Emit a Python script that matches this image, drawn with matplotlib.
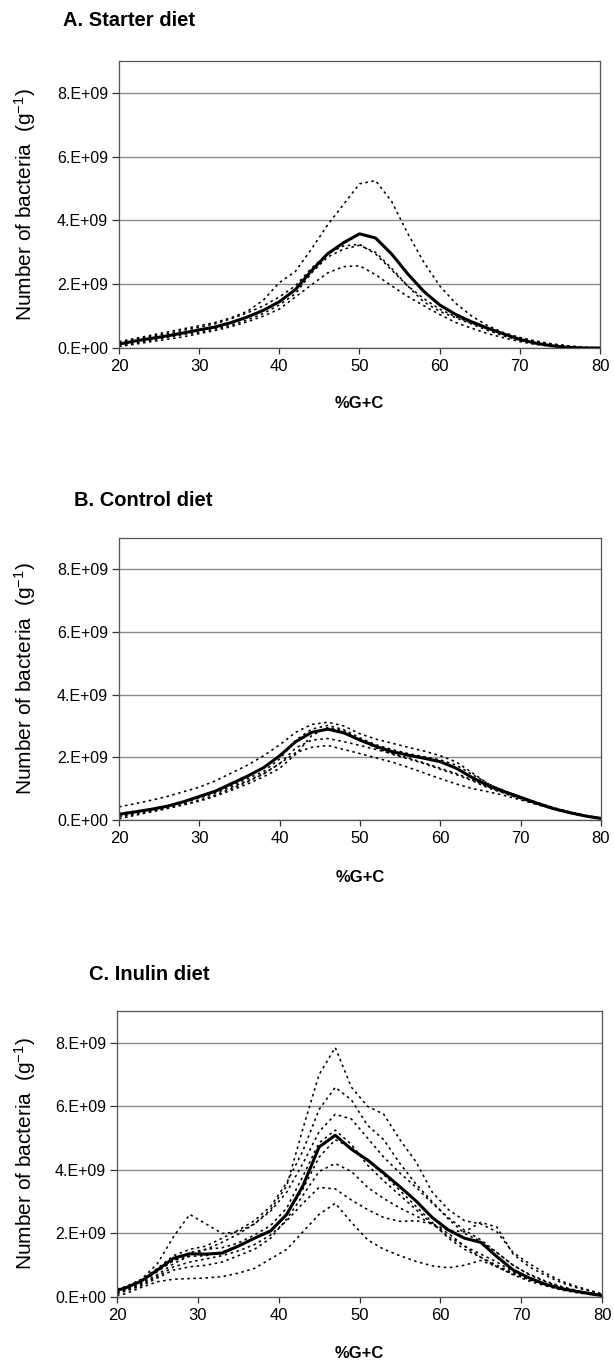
import matplotlib
matplotlib.use("Agg")
import matplotlib.pyplot as plt
import numpy as np

plt.rcParams['font.family'] = ['Liberation Sans', 'DejaVu Sans']
plt.rcParams['mathtext.fontset'] = 'custom'
plt.rcParams['mathtext.rm'] = 'Liberation Sans'
plt.rcParams['mathtext.it'] = 'Liberation Sans:italic'
plt.rcParams['mathtext.bf'] = 'Liberation Sans:bold'

# ---------------- data (values in units of 1e9 bacteria per g) ----------------
x_ab = [20, 22, 24, 26, 28, 30, 32, 34, 36, 38, 40, 42, 44, 46, 48, 50,
        52, 54, 56, 58, 60, 62, 64, 66, 68, 70, 72, 74, 76, 78, 80]

starter_mean = [0.12, 0.22, 0.30, 0.38, 0.47, 0.57, 0.66, 0.80, 0.97, 1.18, 1.45, 1.83, 2.42, 2.95, 3.30, 3.58,
                3.45, 2.95, 2.33, 1.78, 1.35, 1.05, 0.82, 0.62, 0.44, 0.27, 0.15, 0.07, 0.02, 0.0, 0.0]
starter_1 = [0.20, 0.30, 0.40, 0.50, 0.60, 0.70, 0.80, 0.95, 1.15, 1.50, 2.05, 2.40, 3.10, 3.85, 4.50, 5.15,
             5.25, 4.60, 3.60, 2.70, 1.95, 1.40, 1.00, 0.70, 0.48, 0.33, 0.22, 0.13, 0.07, 0.02, 0.0]
starter_2 = [0.05, 0.15, 0.25, 0.33, 0.42, 0.50, 0.60, 0.72, 0.88, 1.08, 1.35, 1.70, 2.35, 2.85, 3.10, 3.22,
             3.00, 2.50, 1.95, 1.45, 1.15, 0.95, 0.75, 0.55, 0.38, 0.24, 0.14, 0.07, 0.03, 0.0, 0.0]
starter_3 = [0.05, 0.12, 0.20, 0.27, 0.35, 0.45, 0.55, 0.67, 0.82, 1.00, 1.22, 1.60, 1.98, 2.35, 2.55, 2.58,
             2.30, 1.95, 1.62, 1.33, 1.05, 0.80, 0.62, 0.45, 0.32, 0.20, 0.11, 0.05, 0.02, 0.0, 0.0]
starter_4 = [0.15, 0.27, 0.36, 0.45, 0.55, 0.65, 0.76, 0.92, 1.10, 1.32, 1.60, 1.95, 2.50, 2.95, 3.20, 3.25,
             2.95, 2.45, 1.95, 1.55, 1.22, 0.98, 0.78, 0.60, 0.44, 0.30, 0.20, 0.12, 0.06, 0.02, 0.0]

control_mean = [0.18, 0.26, 0.34, 0.44, 0.58, 0.75, 0.92, 1.16, 1.40, 1.67, 2.05, 2.50, 2.80, 2.90, 2.78, 2.55,
                2.35, 2.18, 2.07, 1.97, 1.86, 1.65, 1.35, 1.09, 0.90, 0.72, 0.54, 0.37, 0.24, 0.13, 0.05]
control_1 = [0.42, 0.52, 0.63, 0.75, 0.90, 1.05, 1.25, 1.50, 1.75, 2.05, 2.40, 2.80, 3.05, 3.12, 3.00, 2.75,
             2.58, 2.45, 2.32, 2.20, 2.05, 1.85, 1.50, 1.15, 0.92, 0.74, 0.56, 0.40, 0.27, 0.15, 0.06]
control_2 = [0.04, 0.15, 0.26, 0.37, 0.50, 0.63, 0.80, 1.00, 1.22, 1.47, 1.80, 2.15, 2.32, 2.38, 2.25, 2.12,
             1.98, 1.85, 1.68, 1.50, 1.32, 1.15, 1.00, 0.90, 0.78, 0.64, 0.50, 0.36, 0.24, 0.13, 0.04]
control_3 = [0.20, 0.28, 0.36, 0.45, 0.56, 0.70, 0.86, 1.05, 1.25, 1.48, 1.80, 2.30, 2.55, 2.60, 2.50, 2.38,
             2.25, 2.12, 1.98, 1.82, 1.65, 1.48, 1.28, 1.05, 0.86, 0.68, 0.50, 0.35, 0.23, 0.12, 0.04]
control_4 = [0.12, 0.22, 0.32, 0.42, 0.56, 0.72, 0.90, 1.10, 1.32, 1.55, 1.95, 2.55, 2.90, 3.02, 2.88, 2.62,
             2.40, 2.25, 2.12, 2.02, 1.92, 1.75, 1.45, 1.15, 0.93, 0.74, 0.55, 0.38, 0.25, 0.13, 0.05]
control_5 = [0.10, 0.18, 0.27, 0.37, 0.48, 0.60, 0.76, 0.95, 1.15, 1.38, 1.65, 2.10, 2.70, 2.95, 2.85, 2.55,
             2.30, 2.10, 1.95, 1.80, 1.62, 1.45, 1.25, 1.02, 0.85, 0.68, 0.52, 0.36, 0.24, 0.13, 0.05]

x_c = [20, 21, 23, 25, 27, 29, 31, 33, 35, 37, 39, 41, 43, 45, 47, 49,
       51, 53, 55, 57, 59, 61, 63, 65, 67, 69, 71, 73, 75, 77, 79, 80]

inulin_mean = [0.21, 0.28, 0.50, 0.85, 1.22, 1.36, 1.35, 1.38, 1.60, 1.85, 2.08, 2.60, 3.50, 4.72, 5.09, 4.65,
               4.31, 3.90, 3.47, 3.02, 2.50, 2.11, 1.85, 1.72, 1.27, 0.85, 0.60, 0.40, 0.26, 0.17, 0.08, 0.05]
inulin_1 = [0.15, 0.22, 0.42, 0.70, 1.05, 1.30, 1.50, 1.72, 1.98, 2.30, 2.75, 3.50, 5.30, 7.00, 7.85, 6.60,
            6.00, 5.75, 4.95, 4.25, 3.30, 2.75, 2.40, 2.30, 2.05, 1.40, 1.05, 0.75, 0.50, 0.32, 0.17, 0.10]
inulin_2 = [0.25, 0.32, 0.55, 0.90, 1.30, 1.50, 1.60, 1.85, 2.10, 2.40, 2.85, 3.60, 4.60, 5.90, 6.60, 6.20,
            5.40, 4.95, 4.20, 3.55, 3.00, 2.45, 2.00, 1.75, 1.40, 1.00, 0.72, 0.50, 0.33, 0.20, 0.10, 0.06]
inulin_3 = [0.20, 0.30, 0.55, 1.05, 1.90, 2.60, 2.30, 2.00, 2.05, 2.30, 2.70, 3.30, 4.20, 5.20, 5.75, 5.60,
            5.00, 4.40, 3.90, 3.45, 2.95, 2.50, 2.10, 1.80, 1.40, 1.00, 0.70, 0.48, 0.30, 0.18, 0.10, 0.05]
inulin_4 = [0.18, 0.26, 0.45, 0.80, 1.15, 1.40, 1.50, 1.55, 1.70, 1.95, 2.25, 2.80, 3.80, 4.85, 5.25, 4.80,
            4.15, 3.65, 3.20, 2.75, 2.30, 1.90, 1.60, 1.35, 1.10, 0.80, 0.55, 0.38, 0.25, 0.15, 0.07, 0.04]
inulin_5 = [0.10, 0.18, 0.35, 0.60, 0.85, 0.95, 1.00, 1.10, 1.30, 1.50, 1.85, 2.45, 3.20, 3.95, 4.20, 3.95,
            3.45, 3.10, 2.80, 2.55, 2.30, 2.10, 2.05, 2.35, 2.20, 1.35, 0.95, 0.68, 0.45, 0.28, 0.15, 0.08]
inulin_6 = [0.12, 0.20, 0.38, 0.65, 0.95, 1.10, 1.20, 1.30, 1.45, 1.65, 1.95, 2.40, 2.95, 3.45, 3.40, 3.05,
            2.75, 2.50, 2.38, 2.40, 2.30, 2.00, 1.60, 1.25, 0.95, 0.70, 0.50, 0.35, 0.22, 0.13, 0.07, 0.04]
inulin_7 = [0.05, 0.10, 0.30, 0.48, 0.56, 0.58, 0.60, 0.64, 0.75, 0.90, 1.20, 1.50, 2.05, 2.60, 2.95, 2.35,
            1.80, 1.50, 1.30, 1.12, 0.98, 0.92, 1.00, 1.15, 0.95, 0.72, 0.55, 0.40, 0.27, 0.17, 0.09, 0.05]
inulin_8 = [0.22, 0.30, 0.50, 0.82, 1.15, 1.28, 1.30, 1.42, 1.62, 1.85, 2.10, 2.60, 3.40, 4.40, 4.95, 4.70,
            4.30, 3.85, 3.35, 2.85, 2.35, 1.85, 1.50, 1.25, 1.00, 0.75, 0.55, 0.40, 0.28, 0.18, 0.10, 0.06]

titles = ["A. Starter diet", "B. Control diet", "C. Inulin diet"]
x_ticks = [20, 30, 40, 50, 60, 70, 80]
y_ticks = [0, 2e9, 4e9, 6e9, 8e9]
y_tick_labels = ["0.E+00", "2.E+09", "4.E+09", "6.E+09", "8.E+09"]
x_label = "%G+C"
y_label = "Number of bacteria  (g$^{-1}$)"

panels = [
    (x_ab, starter_mean, [starter_1, starter_2, starter_3, starter_4]),
    (x_ab, control_mean, [control_1, control_2, control_3, control_4, control_5]),
    (x_c, inulin_mean, [inulin_1, inulin_2, inulin_3, inulin_4, inulin_5, inulin_6, inulin_7, inulin_8]),
]

# ---------------- layout (pixels) ----------------
W, H = 614, 1366
fig = plt.figure(figsize=(W / 100, H / 100), dpi=100)
boxes = [(119, 600, 61, 348), (119, 601, 538, 820), (117, 602, 1011, 1297)]
title_pos = [(63, 20), (74, 500), (89, 975)]
xlabel_y = [403, 878, 1353]

for i, ((xs, mean, samples), (l, r, t, b)) in enumerate(zip(panels, boxes)):
    ax = fig.add_axes([l / W, 1 - b / H, (r - l) / W, (b - t) / H])
    for s in samples:
        ax.plot(xs, np.array(s) * 1e9, color='black', lw=1.15, ls=(0, (1.6, 2.2)))
    ax.plot(xs, np.array(mean) * 1e9, color='black', lw=2.2, solid_joinstyle='round')
    ax.set_xlim(20, 80)
    ax.set_ylim(0, 9e9)
    ax.set_xticks(x_ticks)
    ax.set_xticklabels([str(v) for v in x_ticks])
    ax.set_yticks(y_ticks)
    ax.set_yticklabels(y_tick_labels)
    ax.yaxis.grid(True, color='#8a8a8a', lw=1.0)
    ax.set_axisbelow(True)
    for sp in ax.spines.values():
        sp.set_color('#555555')
        sp.set_linewidth(0.9)
    ax.tick_params(axis='y', direction='out', length=5, width=0.9, color='#333333',
                   labelsize=11.5, pad=3)
    ax.tick_params(axis='x', direction='out', length=4, width=0.9, color='#333333',
                   labelsize=12, pad=4)
    ax.set_ylabel(y_label, fontsize=15)
    ax.yaxis.set_label_coords(-(l - 38) / (r - l), 0.5)
    fig.text(title_pos[i][0] / W, 1 - title_pos[i][1] / H, titles[i],
             fontsize=14.5, fontweight='bold', ha='left', va='center')
    fig.text(((l + r) / 2) / W, 1 - xlabel_y[i] / H, x_label,
             fontsize=12, fontweight='bold', ha='center', va='center')

fig.savefig("out.png", dpi=100)
